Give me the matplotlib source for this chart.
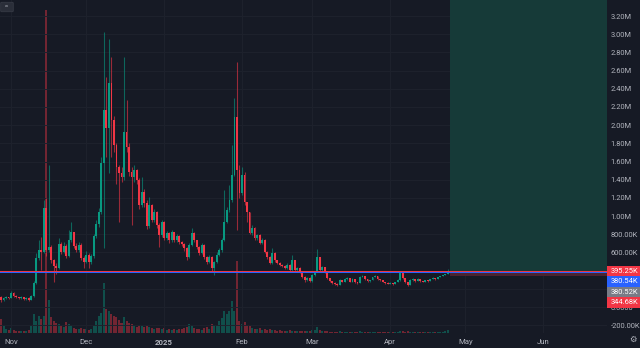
import numpy as np
import pandas as pd
import matplotlib
matplotlib.use('Agg')
import matplotlib.pyplot as plt
import matplotlib.dates as mdates
from matplotlib.patches import Rectangle, FancyBboxPatch

plt.rcParams['font.family'] = ['Roboto', 'DejaVu Sans']

# daily candles, values in thousands
dates = pd.date_range('2024-10-28', periods=179, freq='D')
first_open = 110
closes = [77, 99, 110, 99, 154, 121, 110, 99, 110, 88,
          99, 77, 121, 264, 539, 627, 605, 1089, 627, 660,
          517, 451, 429, 693, 605, 671, 561, 737, 825, 671,
          627, 682, 539, 495, 572, 495, 561, 781, 913, 1045,
          1584, 2167, 1969, 2464, 2057, 1782, 1540, 1474, 1430, 1925,
          1760, 1485, 1430, 1507, 1397, 1122, 1265, 1144, 891, 1122,
          957, 1045, 902, 792, 935, 759, 814, 737, 825, 737,
          781, 715, 693, 649, 550, 682, 814, 737, 660, 594,
          682, 550, 495, 550, 429, 495, 572, 627, 737, 935,
          1067, 1177, 1452, 2090, 1507, 1254, 1452, 1155, 1045, 814,
          869, 759, 792, 704, 737, 605, 550, 484, 594, 517,
          484, 462, 451, 429, 462, 407, 517, 407, 429, 385,
          330, 297, 319, 286, 352, 385, 550, 407, 440, 385,
          319, 286, 264, 253, 242, 297, 275, 308, 319, 275,
          308, 275, 264, 330, 341, 308, 286, 297, 330, 341,
          308, 297, 275, 264, 258, 264, 253, 275, 297, 374,
          319, 275, 242, 297, 308, 286, 308, 286, 275, 297,
          286, 308, 319, 308, 330, 341, 352, 363, 395.25]
highs = [120, 110, 125, 115, 180, 160, 130, 115, 120, 115,
         110, 105, 130, 290, 595, 737, 770, 1180, 1200, 1560,
         680, 530, 480, 760, 720, 720, 690, 850, 935, 830,
         700, 710, 700, 560, 620, 590, 580, 800, 960, 1090,
         1650, 3020, 2530, 2950, 2750, 2100, 1800, 1560, 1540, 2750,
         2280, 1800, 1540, 1560, 1520, 1420, 1430, 1300, 1180, 1210,
         1130, 1080, 1060, 920, 960, 950, 840, 830, 850, 830,
         800, 790, 730, 700, 660, 700, 870, 820, 740, 670,
         700, 690, 560, 570, 560, 510, 600, 650, 760, 1290,
         1100, 1340, 1780, 2300, 2690, 1560, 1540, 1480, 1160, 1050,
         900, 880, 800, 800, 760, 750, 620, 560, 650, 600,
         520, 500, 470, 460, 480, 470, 570, 520, 440, 440,
         390, 340, 330, 325, 360, 395, 640, 550, 450, 445,
         390, 320, 290, 270, 260, 305, 300, 315, 325, 320,
         315, 310, 280, 340, 350, 345, 310, 300, 335, 350,
         345, 310, 300, 280, 270, 270, 268, 280, 305, 395,
         380, 320, 280, 305, 315, 310, 315, 310, 290, 300,
         300, 312, 325, 322, 335, 345, 356, 368, 420]
lows = [60, 70, 90, 88, 95, 110, 100, 90, 92, 80,
        82, 66, 72, 110, 250, 520, 407, 590, 560, 600,
        480, 275, 360, 420, 580, 590, 540, 550, 720, 650,
        600, 610, 520, 430, 480, 430, 470, 540, 760, 880,
        1020, 650, 1650, 1474, 1650, 1700, 1350, 935, 1380, 1400,
        1700, 1440, 902, 1380, 1350, 1080, 1100, 1100, 860, 870,
        930, 940, 870, 660, 770, 740, 740, 700, 720, 710,
        720, 690, 670, 620, 520, 540, 670, 720, 640, 570,
        580, 530, 470, 480, 400, 352, 480, 560, 610, 730,
        920, 1050, 1160, 1440, 850, 1200, 1230, 1120, 935, 800,
        790, 740, 740, 690, 690, 590, 530, 470, 470, 500,
        470, 450, 440, 420, 420, 395, 400, 390, 390, 370,
        320, 280, 290, 275, 280, 345, 380, 400, 395, 375,
        310, 280, 255, 245, 236, 240, 270, 270, 300, 270,
        270, 268, 255, 260, 325, 300, 280, 280, 295, 325,
        300, 290, 270, 258, 250, 252, 245, 250, 270, 290,
        310, 268, 236, 240, 290, 280, 282, 280, 270, 272,
        280, 282, 305, 302, 305, 325, 338, 348, 360]
# volume, millions
volumes = [14, 7, 4, 3, 5, 3, 2, 2, 2, 2,
           2, 3, 7, 19, 12, 17, 14, 17, 323, 33,
           16, 12, 10, 9, 7, 6, 11, 9, 8, 5,
           4, 4, 5, 4, 4, 3, 4, 7, 12, 17,
           20, 50, 24, 22, 19, 17, 16, 13, 10, 16,
           12, 10, 9, 7, 6, 8, 7, 6, 7, 6,
           5, 4, 5, 5, 4, 5, 3, 4, 3, 4,
           3, 4, 4, 5, 6, 9, 8, 5, 4, 4,
           3, 5, 6, 4, 9, 8, 7, 12, 15, 22,
           19, 22, 32, 22, 72, 12, 9, 11, 8, 7,
           5, 4, 4, 5, 3, 4, 3, 4, 3, 3,
           2, 3, 2, 2, 2, 3, 2, 2, 2, 2,
           2, 2, 2, 2, 3, 3, 6, 3, 2, 2,
           2, 1.5, 1.5, 1.5, 1.5, 2, 1.5, 1.5, 1.5, 1.5,
           1.5, 1.5, 1.5, 2, 1.5, 1.5, 1.5, 1.5, 1.5, 1.5,
           1.5, 1.5, 1.5, 1.5, 1.5, 1.5, 1.5, 1.5, 1.5, 2.5,
           2, 1.5, 2, 1.5, 1.5, 1.5, 1.5, 1.5, 1.5, 1.5,
           1.5, 1.5, 1.5, 1.5, 1.5, 1.5, 1.5, 2, 3]

month_ticks = ['2024-11-01', '2024-12-01', '2025-01-01', '2025-02-01',
               '2025-03-01', '2025-04-01', '2025-05-01', '2025-06-01']
month_labels = ['Nov', 'Dec', '2025', 'Feb', 'Mar', 'Apr', 'May', 'Jun']

# long position tool
entry_date = '2025-04-25'
entry_price = 395.25
stop_price = 344.68
target_price = 3600

price_labels = ['395.25K', '380.54K', '380.52K', '344.68K']
price_values = [395.25, 380.54, 380.52, 344.68]
price_colors = ['#F23645', '#2962FF', '#787B86', '#F23645']

bg = '#161a25'
up = '#089981'
down = '#F23645'
txt = '#b2b5be'
fs = 5.4

opens = [first_open] + closes[:-1]
o = np.array(opens) * 1e3
c = np.array(closes) * 1e3
h = np.array(highs) * 1e3
l = np.array(lows) * 1e3
x = mdates.date2num(dates)
rising = c >= o
cols = np.where(rising, up, down)

fig = plt.figure(figsize=(6.4, 3.48), dpi=100, facecolor=bg)
rect = [0, 15 / 348, 607 / 640, 333 / 348]
vax = fig.add_axes(rect, facecolor=bg)
ax = fig.add_axes(rect, sharex=vax)
ax.patch.set_alpha(0)

left = pd.Timestamp('2024-11-01') - pd.Timedelta(days=4.4)
right = left + pd.Timedelta(days=241.8)
ax.set_xlim(left, right)
ax.set_ylim(-286e3, 3377e3)

vax.bar(x, volumes, width=0.8, color=cols, alpha=0.42, linewidth=0)
vax.set_ylim(0, 333)
vax.axis('off')

# grid
for v in np.arange(-200e3, 3400e3 + 1, 200e3):
    ax.axhline(v, color='#1e222d', lw=0.7, zorder=0)
for m in month_ticks:
    ax.axvline(pd.Timestamp(m), color='#1e222d', lw=0.7, zorder=0)

# position tool zones
ax.fill_between([pd.Timestamp(entry_date), right], entry_price * 1e3, target_price * 1e3,
                color='#163a38', zorder=1, lw=0)
ax.fill_between([pd.Timestamp(entry_date), right], stop_price * 1e3, entry_price * 1e3,
                color='#4a2330', zorder=1, lw=0)

ax.axhline(price_values[1] * 1e3, color='#2962FF', lw=0.75, zorder=4)
ax.axhline(price_values[0] * 1e3, color='#F23645', lw=0.7, zorder=4)

# candles
ax.vlines(x, l, h, colors=cols, lw=0.8, alpha=0.6, zorder=2)
body = np.maximum(np.abs(c - o), 8e3)
ax.bar(x, body, bottom=np.minimum(o, c), width=0.75, color=cols, linewidth=0, zorder=3)

for s in ax.spines.values():
    s.set_visible(False)


def fmt(v):
    if abs(v) < 1:
        return '0.0000'
    if abs(v) >= 1e6:
        return f'{v / 1e6:.2f}M'
    return f'{v / 1e3:.2f}K'


# levels hidden behind the price labels are left out, as on the reference scale
ticks = [v for v in np.arange(-200e3, 3200e3 + 1, 200e3) if v not in (200e3, 400e3)]
ax.yaxis.tick_right()
ax.set_yticks(ticks)
ax.set_yticklabels([fmt(v) for v in ticks])
ax.tick_params(axis='y', length=0, pad=2.6, labelsize=fs, labelcolor=txt)
ax.text(1 + 4 / 607, 3.4e6, fmt(3.4e6), transform=ax.get_yaxis_transform(),
        ha='left', va='center', fontsize=fs, color=txt, clip_on=False)

ax.set_xticks([pd.Timestamp(m) for m in month_ticks])
ax.set_xticklabels(month_labels)
ax.tick_params(axis='x', length=0, pad=4, labelsize=fs + 0.2, labelcolor=txt)
for lab in ax.get_xticklabels():
    if lab.get_text() == '2025':
        lab.set_fontweight('bold')

# price labels on the scale, stacked so they do not overlap
box_h = 10.5
prev = None
for lab, val, col in zip(price_labels, price_values, price_colors):
    ypx = ax.transData.transform((0, val * 1e3))[1]
    if prev is not None and ypx > prev - box_h:
        ypx = prev - box_h
    prev = ypx
    fig.add_artist(Rectangle((607 / 640, (ypx - box_h / 2) / 348), 33 / 640, box_h / 348,
                             transform=fig.transFigure, color=col, lw=0))
    fig.text(611 / 640, ypx / 348, lab, color='white', fontsize=fs, ha='left', va='center')

# small chart buttons
fig.add_artist(FancyBboxPatch((2 / 640, 337 / 348), 10 / 640, 8 / 348,
                              boxstyle='round,pad=0.002', transform=fig.transFigure,
                              facecolor='#2a2e39', edgecolor='#363a45', lw=0.6))
fig.text(7 / 640, 340.5 / 348, '^^', color=txt, fontsize=3.5, ha='center', va='center')
fig.text(633 / 640, 8 / 348, '\u2699', color=txt, fontsize=6, ha='center', va='center')

plt.savefig('out.png', dpi=100, facecolor=bg)
